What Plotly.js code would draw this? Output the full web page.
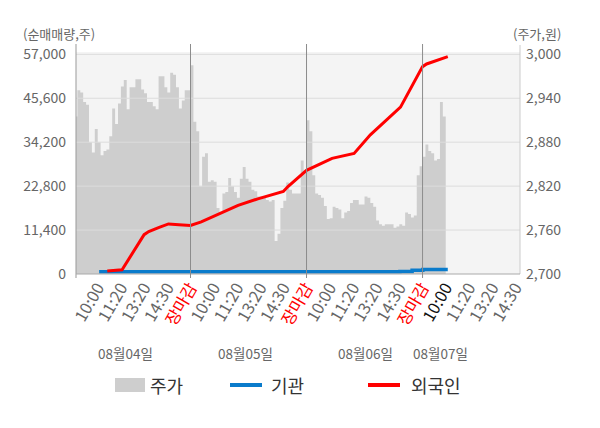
<!DOCTYPE html>
<html><head><meta charset="utf-8">
<script src="https://cdn.plot.ly/plotly-3.0.1.min.js"></script>
<style>html,body{margin:0;padding:0;background:#fff}#chart{width:600px;height:428px}</style>
</head><body><div id="chart"></div>
<script>
// ---- data ----
const SLOTS_PER_DAY = 40;
const dayLabels = ['08월04일', '08월05일', '08월06일', '08월07일'];
const timeLabels = ['10:00', '11:20', '13:20', '14:30', '장마감'];
const timeSlots = [8.0, 16.0, 24.0, 32.0, 40];
// 주가 (price, won) per slot
const priceDay1 = [2915,2951,2948,2935,2931,2880,2866,2898,2880,2862,2868,2870,2888,2926,2905,2933,2956,2965,2925,2955,2955,2966,2966,2952,2947,2935,2935,2929,2925,2970,2970,2955,2948,2975,2972,2955,2926,2937,2951,2951];
const priceDay2 = [2985,2908,2895,2820,2860,2865,2826,2828,2826,2790,2785,2810,2812,2831,2820,2812,2804,2830,2846,2830,2826,2815,2813,2806,2806,2804,2801,2799,2801,2745,2755,2790,2800,2825,2815,2810,2810,2810,2855,2840];
const priceDay3 = [2910,2895,2835,2810,2808,2804,2793,2775,2776,2792,2790,2788,2776,2784,2786,2797,2801,2801,2795,2795,2806,2804,2797,2792,2773,2768,2766,2768,2768,2768,2763,2765,2768,2766,2784,2782,2777,2780,2835,2847];
const priceDay4 = [2860,2877,2868,2865,2855,2857,2935,2915];
// 외국인 cumulative net (shares)
const foreignSlot = [11.3,16.4,24,25.6,29.2,32.4,36,40,43.7,49.5,56.4,63.2,67.9,72,73.6,80,88.8,96.4,102,112.4,120,121.4,128.7];
const foreignNet  = [800,1100,10200,11000,12100,13000,12800,12600,13500,15400,17800,19500,20500,21400,22700,26900,30000,31300,36100,43300,53800,54500,56400];
// 기관 cumulative net (shares)
const instSlot = [8.5, 112.2, 116.4, 120.1, 128.7];
const instNet  = [600, 650, 1000, 1200, 1200];
const volTicks = [0, 11400, 22800, 34200, 45600, 57000];
const priceTicks = [2700, 2760, 2820, 2880, 2940, 3000];

// ---- layout geometry ----
const L = 76, R = 80, T = 52, B = 154, W = 600, H = 428;
const PW = W - L - R, PH = H - T - B;
const px = p => (p - L) / PW;          // pixel x -> paper
const py = p => (H - B - p) / PH;      // pixel y -> paper
const topPad = 2.3 / 220;
const volRange = [0, volTicks[volTicks.length - 1] / (1 - topPad)];
const priceRange = [priceTicks[0], priceTicks[0] + (priceTicks[priceTicks.length - 1] - priceTicks[0]) / (1 - topPad)];
const xRange = [0.52, 153.6];
const fmt = v => v.toLocaleString('en-US');

// price area
const days = [priceDay1, priceDay2, priceDay3, priceDay4];
const px_ = [], py_ = [];
days.forEach((arr, d) => arr.forEach((v, i) => { px_.push(d * SLOTS_PER_DAY + i); py_.push(v); }));
px_.push(3 * SLOTS_PER_DAY + priceDay4.length); py_.push(priceDay4[priceDay4.length - 1]);

// gridlines drawn above the area
const gx = [], gy = [];
priceTicks.slice(1).forEach(t => { gx.push(xRange[0], xRange[1], null); gy.push(t, t, null); });

// ticks
const tickvals = [], ticktext = [];
for (let d = 0; d < 4; d++) {
  timeSlots.forEach((s, k) => {
    const v = d * SLOTS_PER_DAY + s;
    if (v > xRange[1]) return;
    let t = timeLabels[k];
    if (k === 4) t = '<span style="color:#ff0000">' + t + '</span>';
    else if (d === 3 && k === 0) t = '<span style="color:#111">' + t + '</span>';
    tickvals.push(v); ticktext.push(t);
  });
}

const traces = [
  {x: px_, y: py_, type: 'scatter', mode: 'lines', line: {shape: 'hv', width: 0, color: '#cecece'},
   fill: 'tozeroy', fillcolor: '#cecece', yaxis: 'y', name: '주가', showlegend: false, hoverinfo: 'skip'},
  {x: gx, y: gy, type: 'scatter', mode: 'lines', line: {width: 1, color: '#dcdcdc'}, yaxis: 'y',
   showlegend: false, hoverinfo: 'skip'},
  {x: instSlot, y: instNet, type: 'scatter', mode: 'lines', line: {shape: 'hv', width: 3.5, color: '#0a7bcb'},
   yaxis: 'y2', name: '기관', showlegend: false},
  {x: foreignSlot, y: foreignNet, type: 'scatter', mode: 'lines', line: {width: 3, color: '#ff0000'},
   yaxis: 'y2', name: '외국인', showlegend: false}
];

const shapes = [];
// frame lines
shapes.push({type: 'line', xref: 'paper', yref: 'paper', x0: 0, x1: 0, y0: py(278), y1: py(44), line: {color: '#999', width: 1}, layer: 'above'});
shapes.push({type: 'line', xref: 'paper', yref: 'paper', x0: 1, x1: 1, y0: 0, y1: py(45), line: {color: '#ccc', width: 1}, layer: 'above'});
shapes.push({type: 'line', xref: 'paper', yref: 'paper', x0: 0, x1: 1, y0: 0, y1: 0, line: {color: '#aaa', width: 1}, layer: 'above'});
for (let d = 1; d < 4; d++) {
  shapes.push({type: 'line', xref: 'x', yref: 'paper', x0: d * SLOTS_PER_DAY, x1: d * SLOTS_PER_DAY, y0: py(278), y1: py(44), line: {color: '#8c8c8c', width: 1}, layer: 'above'});
}
// legend
shapes.push({type: 'rect', xref: 'paper', yref: 'paper', x0: px(115), x1: px(145), y0: py(392), y1: py(378), fillcolor: '#cecece', line: {width: 0}});
shapes.push({type: 'line', xref: 'paper', yref: 'paper', x0: px(230), x1: px(262), y0: py(385), y1: py(385), line: {color: '#0a7bcb', width: 4}});
shapes.push({type: 'line', xref: 'paper', yref: 'paper', x0: px(368), x1: px(400), y0: py(385), y1: py(385), line: {color: '#ff0000', width: 4}});

const FONT = '"Noto Sans CJK KR", "Noto Sans", sans-serif';
const annotations = [
  {text: '(순매매량,주)', xref: 'paper', yref: 'paper', x: px(21), y: py(33), xanchor: 'left', yanchor: 'middle', showarrow: false, font: {size: 13, color: '#666'}},
  {text: '(주가,원)', xref: 'paper', yref: 'paper', x: px(563), y: py(33), xanchor: 'right', yanchor: 'middle', showarrow: false, font: {size: 13, color: '#666'}},
  {text: '주가', xref: 'paper', yref: 'paper', x: px(148), y: py(385), xanchor: 'left', yanchor: 'middle', showarrow: false, font: {size: 18, color: '#333'}},
  {text: '기관', xref: 'paper', yref: 'paper', x: px(269), y: py(385), xanchor: 'left', yanchor: 'middle', showarrow: false, font: {size: 18, color: '#333'}},
  {text: '외국인', xref: 'paper', yref: 'paper', x: px(409), y: py(385), xanchor: 'left', yanchor: 'middle', showarrow: false, font: {size: 18, color: '#333'}}
];
const dayLabelPx = [125, 245, 365, 440.5];
dayLabels.forEach((t, i) => annotations.push({text: t, xref: 'paper', yref: 'paper', x: px(dayLabelPx[i]), y: py(353), xanchor: 'center', yanchor: 'middle', showarrow: false, font: {size: 13.5, color: '#666'}}));

const layout = {
  width: W, height: H, margin: {l: L, r: R, t: T, b: B},
  paper_bgcolor: '#fff', plot_bgcolor: '#f4f4f4',
  font: {family: FONT, color: '#666'},
  showlegend: false,
  xaxis: {range: xRange, tickmode: 'array', tickvals: tickvals, ticktext: ticktext, tickangle: -60,
    tickfont: {size: 16.5, color: '#666'}, showgrid: false, zeroline: false, showline: false, ticks: '', fixedrange: true},
  yaxis: {range: priceRange, side: 'right', tickmode: 'array', tickvals: priceTicks, ticktext: priceTicks.map(fmt),
    tickfont: {size: 14, color: '#666'}, showgrid: false, zeroline: false, showline: false, ticks: '', ticklabelstandoff: 5},
  yaxis2: {range: volRange, side: 'left', overlaying: 'y', tickmode: 'array', tickvals: volTicks, ticktext: volTicks.map(fmt),
    tickfont: {size: 14, color: '#666'}, showgrid: false, zeroline: false, showline: false, ticks: '', ticklabelstandoff: 9},
  shapes: shapes, annotations: annotations
};
Plotly.newPlot('chart', traces, layout, {staticPlot: true});
</script></body></html>
